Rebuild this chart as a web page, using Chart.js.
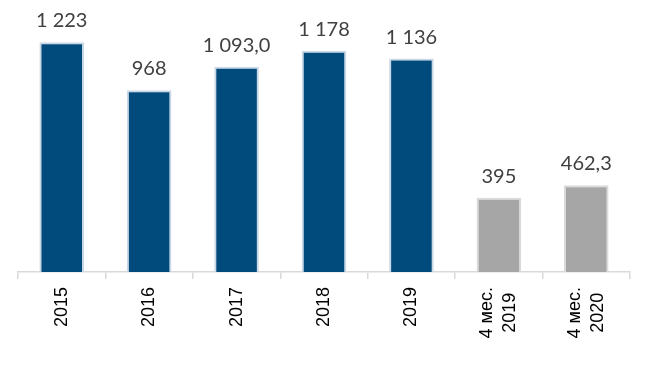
<!DOCTYPE html>
<html>
<head>
<meta charset="utf-8">
<script src="https://cdn.jsdelivr.net/npm/chart.js@4.4.1/dist/chart.umd.min.js"></script>
<style>
  html, body { margin: 0; padding: 0; background: #ffffff; }
  #wrap { width: 648px; height: 381px; position: relative; }
</style>
</head>
<body>
<div id="wrap"><canvas id="c"></canvas></div>
<script>
// ---- data ----
const categories = ["2015", "2016", "2017", "2018", "2019", ["4 мес.", "2019"], ["4 мес.", "2020"]];
const values = [1223, 968, 1093.0, 1178, 1136, 395, 462.3];
const valueLabels = ["1 223", "968", "1 093,0", "1 178", "1 136", "395", "462,3"];
const barColors = ["#014B7C", "#014B7C", "#014B7C", "#014B7C", "#014B7C", "#A6A6A6", "#A6A6A6"];
const barBorders = ["#C9D8E6", "#C9D8E6", "#C9D8E6", "#C9D8E6", "#C9D8E6", "#DADADA", "#DADADA"];

const valueLabelPlugin = {
  id: 'valueLabels',
  afterDatasetsDraw(chart) {
    const ctx = chart.ctx;
    const meta = chart.getDatasetMeta(0);
    ctx.save();
    ctx.font = '20px Lato';
    ctx.fillStyle = '#404040';
    ctx.textAlign = 'center';
    ctx.textBaseline = 'alphabetic';
    meta.data.forEach((bar, i) => {
      ctx.fillText(valueLabels[i], bar.x, bar.y - 15);
    });
    ctx.restore();
  }
};

const xLabelPlugin = {
  id: 'xLabels',
  afterDraw(chart) {
    const ctx = chart.ctx;
    const xs = chart.scales.x;
    ctx.save();
    ctx.font = 'normal 18px "Liberation Sans", Arial, sans-serif';
    ctx.fillStyle = '#000000';
    ctx.textAlign = 'center';
    ctx.textBaseline = 'middle';
    const lh = 23;
    const top = xs.top + 15;
    categories.forEach((lab, i) => {
      const lines = Array.isArray(lab) ? lab : [lab];
      const px = xs.getPixelForTick(i);
      const maxW = Math.max(...lines.map(l => ctx.measureText(l).width));
      const cy = top + maxW / 2;
      const x0 = px - (lines.length - 1) * lh / 2;
      lines.forEach((l, k) => {
        ctx.save();
        ctx.translate(x0 + k * lh, cy);
        ctx.rotate(-Math.PI / 2);
        ctx.fillText(l, 0, 0);
        ctx.restore();
      });
    });
    ctx.restore();
  }
};

new Chart(document.getElementById('c'), {
  type: 'bar',
  data: {
    labels: categories,
    datasets: [{
      data: values,
      backgroundColor: barColors,
      borderColor: barBorders,
      borderWidth: 2,
      borderSkipped: 'bottom',
      barPercentage: 0.51,
      categoryPercentage: 1.0
    }]
  },
  options: {
    responsive: true,
    maintainAspectRatio: false,
    animation: false,
    layout: { padding: { left: 18, right: 18, top: 9, bottom: 0 } },
    plugins: { legend: { display: false }, tooltip: { enabled: false } },
    scales: {
      x: {
        grid: { display: true, drawOnChartArea: false, drawTicks: true, tickLength: 7, color: '#D9D9D9', lineWidth: 1.5, offset: true },
        border: { display: true, color: '#D9D9D9', width: 1.5 },
        ticks: { display: false },
        afterFit(scale) { scale.height = 109; }
      },
      y: {
        display: false,
        min: 0,
        max: 1400
      }
    }
  },
  plugins: [valueLabelPlugin, xLabelPlugin]
});
</script>
</body>
</html>
